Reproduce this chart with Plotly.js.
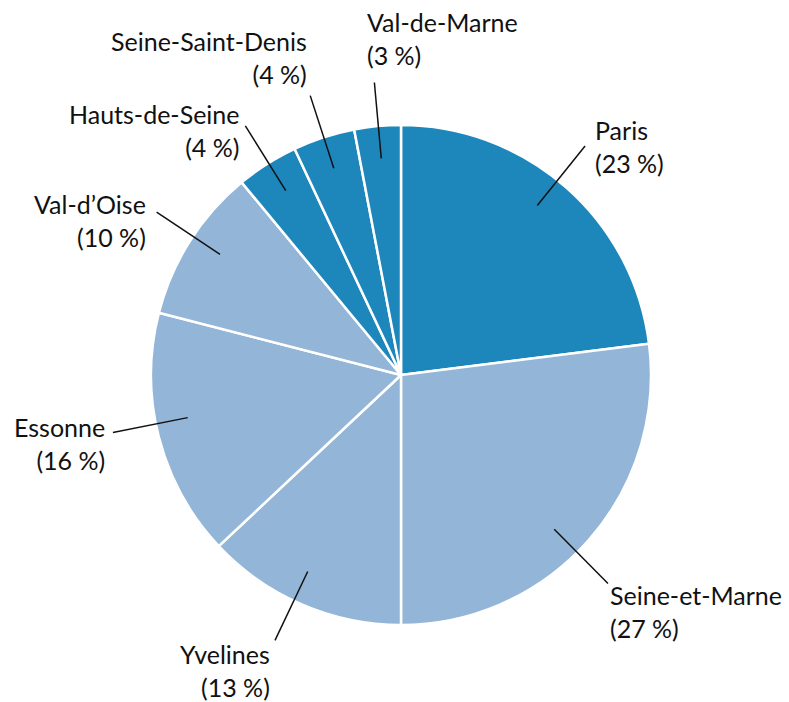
<!DOCTYPE html>
<html>
<head>
<meta charset="utf-8">
<script src="https://cdn.plot.ly/plotly-3.0.1.min.js"></script>
<style>html,body{margin:0;padding:0;background:#fff;}#chart{width:789px;height:702px;}</style>
</head>
<body>
<div id="chart"></div>
<script>
// Data
const departements = ['Paris', 'Seine-et-Marne', 'Yvelines', 'Essonne', 'Val-d\u2019Oise', 'Hauts-de-Seine', 'Seine-Saint-Denis', 'Val-de-Marne'];
const parts = [23, 27, 13, 16, 10, 4, 4, 3];
const groupe = ['dark', 'light', 'light', 'light', 'light', 'dark', 'dark', 'dark'];

// Style
const W = 789, H = 702;
const CX = 401, CY = 375, R = 250;
const colorMap = {dark: '#1d87bb', light: '#93b5d7'};
const FONT = 'Lato, "Noto Sans", sans-serif';
const FSIZE = 25;
// label placement per slice: [xanchor, yanchor, dx, dy]
const placement = [
  ['left', 'middle', -2, -8],
  ['left', 'top', -13, 9],
  ['right', 'top', -12, -8],
  ['right', 'middle', -9, -5],
  ['right', 'middle', -5, 3],
  ['right', 'middle', -3, 4],
  ['right', 'bottom', -1, -5],
  ['left', 'bottom', -8, -11]
];
// small angular tweak (degrees) of each leader line
const leaderTweak = [-2.6, 3.8, 2, 3.1, 1.3, 0.4, 0, 0.2];

const total = parts.reduce((a, b) => a + b, 0);
const px = x => x / W;
const py = y => 1 - y / H;

const shapes = [];
const annotations = [];
let cum = 0;
parts.forEach((v, i) => {
  const mid = (cum + v / 2) / total * 2 * Math.PI;
  cum += v;
  const la = mid + leaderTweak[i] * Math.PI / 180;
  const lx = Math.sin(la), ly = -Math.cos(la);
  shapes.push({type: 'line', xref: 'paper', yref: 'paper',
    x0: px(CX + 0.87 * R * lx), y0: py(CY + 0.87 * R * ly),
    x1: px(CX + 1.175 * R * lx), y1: py(CY + 1.175 * R * ly),
    line: {color: '#111111', width: 1.5}});
  const sx = Math.sin(mid), sy = -Math.cos(mid);
  const x1 = CX + 1.175 * R * sx, y1 = CY + 1.175 * R * sy;
  const p = placement[i];
  annotations.push({
    xref: 'paper', yref: 'paper', x: px(x1 + p[2]), y: py(y1 + p[3]),
    xanchor: p[0], yanchor: p[1], align: p[0] === 'left' ? 'left' : 'right',
    showarrow: false,
    text: departements[i] + '<br>(' + v + ' %)',
    font: {family: FONT, size: FSIZE, color: '#111111'}
  });
});

const trace = {
  type: 'pie',
  labels: departements,
  values: parts,
  sort: false,
  direction: 'clockwise',
  rotation: 0,
  textinfo: 'none',
  hoverinfo: 'label+percent',
  showlegend: false,
  marker: {colors: groupe.map(g => colorMap[g]), line: {color: '#ffffff', width: 2.5}},
  domain: {x: [px(CX - R), px(CX + R)], y: [py(CY + R), py(CY - R)]}
};

Plotly.newPlot('chart', [trace], {
  width: W, height: H,
  margin: {l: 0, r: 0, t: 0, b: 0},
  paper_bgcolor: '#ffffff',
  showlegend: false,
  shapes: shapes,
  annotations: annotations
}, {displayModeBar: false, staticPlot: true});
</script>
</body>
</html>
